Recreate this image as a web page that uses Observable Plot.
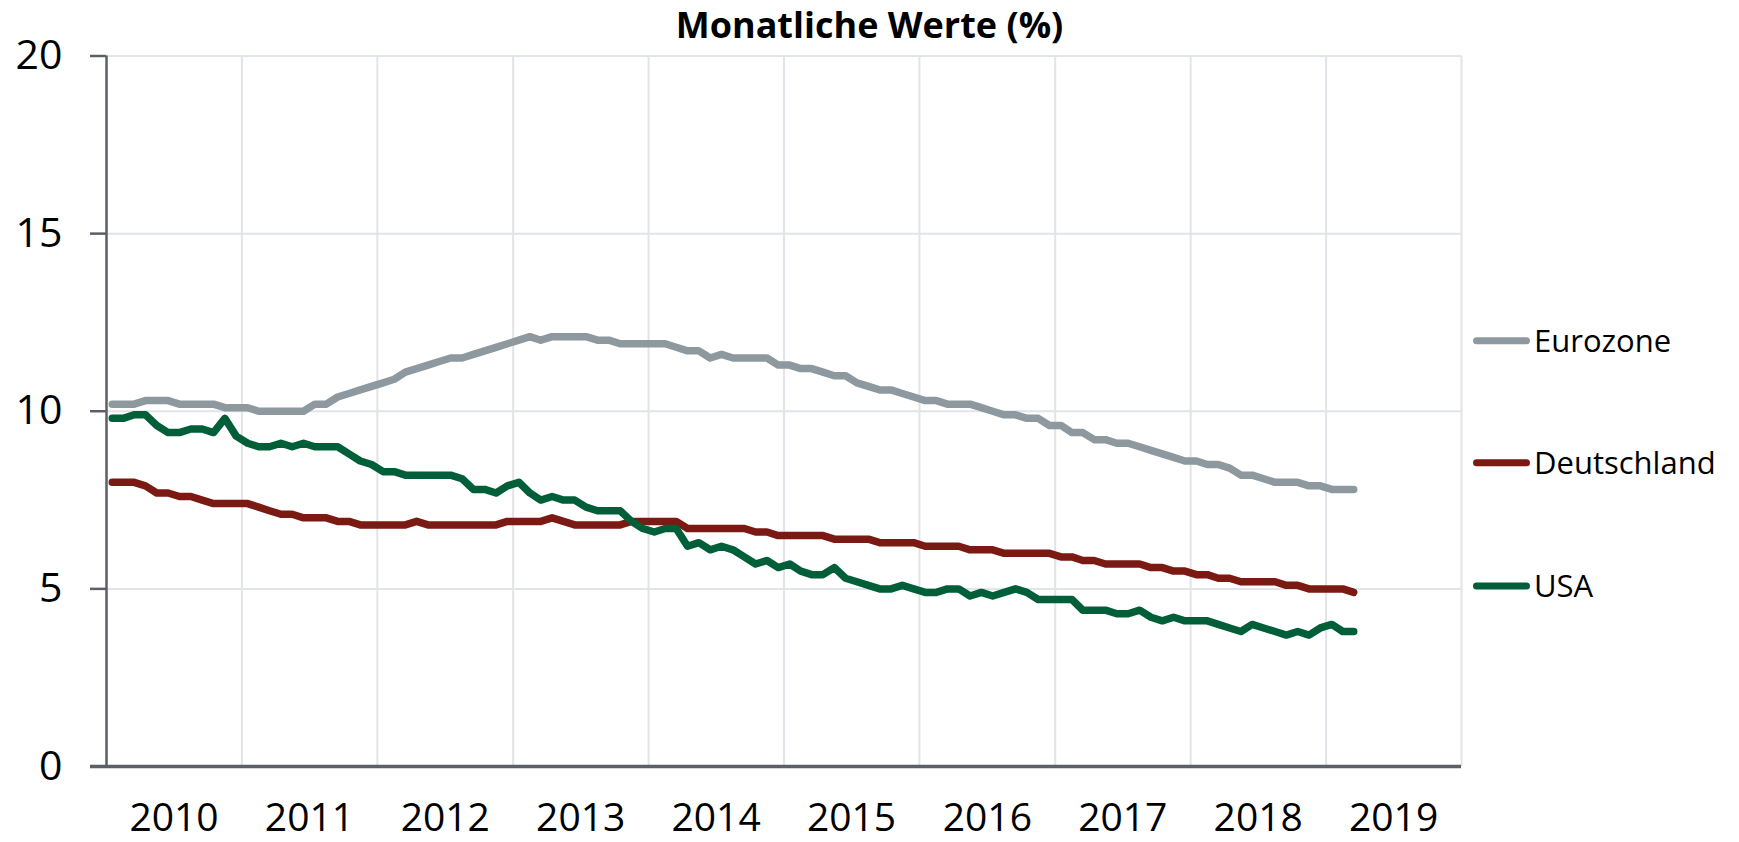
<!DOCTYPE html>
<html>
<head>
<meta charset="utf-8">
<script src="https://cdn.jsdelivr.net/npm/d3@7"></script>
<script src="https://cdn.jsdelivr.net/npm/@observablehq/plot@0.6"></script>
<style>
  html, body { margin: 0; padding: 0; background: #fff; }
  #wrap { position: relative; width: 1739px; height: 842px; overflow: hidden; font-family: "Open Sans", sans-serif; }
  #title { position: absolute; top: 5px; left: 0; width: 1739px; text-align: center; font: 700 36px/40px "Open Sans", sans-serif; color: #000; }
  #chart { position: absolute; top: 0; left: 0; }
</style>
</head>
<body>
<div id="wrap">
  <div id="chart"></div>
  <div id="title">Monatliche Werte (%)</div>
</div>
<script>
// ---- Data: monthly values, Jan 2010 – Mar 2019 ----
const startYear = 2010;
const startMonth = 0; // January
const years = ["2010","2011","2012","2013","2014","2015","2016","2017","2018","2019"];
const yTicks = [0, 5, 10, 15, 20];
const seriesNames = ["Eurozone", "Deutschland", "USA"];

const eurozone = [
  10.2,10.2,10.2,10.3,10.3,10.3,10.2,10.2,10.2,10.2,10.1,10.1,
  10.1,10.0,10.0,10.0,10.0,10.0,10.2,10.2,10.4,10.5,10.6,10.7,
  10.8,10.9,11.1,11.2,11.3,11.4,11.5,11.5,11.6,11.7,11.8,11.9,
  12.0,12.1,12.0,12.1,12.1,12.1,12.1,12.0,12.0,11.9,11.9,11.9,
  11.9,11.9,11.8,11.7,11.7,11.5,11.6,11.5,11.5,11.5,11.5,11.3,
  11.3,11.2,11.2,11.1,11.0,11.0,10.8,10.7,10.6,10.6,10.5,10.4,
  10.3,10.3,10.2,10.2,10.2,10.1,10.0,9.9,9.9,9.8,9.8,9.6,
  9.6,9.4,9.4,9.2,9.2,9.1,9.1,9.0,8.9,8.8,8.7,8.6,
  8.6,8.5,8.5,8.4,8.2,8.2,8.1,8.0,8.0,8.0,7.9,7.9,
  7.8,7.8,7.8
];
const deutschland = [
  8.0,8.0,8.0,7.9,7.7,7.7,7.6,7.6,7.5,7.4,7.4,7.4,
  7.4,7.3,7.2,7.1,7.1,7.0,7.0,7.0,6.9,6.9,6.8,6.8,
  6.8,6.8,6.8,6.9,6.8,6.8,6.8,6.8,6.8,6.8,6.8,6.9,
  6.9,6.9,6.9,7.0,6.9,6.8,6.8,6.8,6.8,6.8,6.9,6.9,
  6.9,6.9,6.9,6.7,6.7,6.7,6.7,6.7,6.7,6.6,6.6,6.5,
  6.5,6.5,6.5,6.5,6.4,6.4,6.4,6.4,6.3,6.3,6.3,6.3,
  6.2,6.2,6.2,6.2,6.1,6.1,6.1,6.0,6.0,6.0,6.0,6.0,
  5.9,5.9,5.8,5.8,5.7,5.7,5.7,5.7,5.6,5.6,5.5,5.5,
  5.4,5.4,5.3,5.3,5.2,5.2,5.2,5.2,5.1,5.1,5.0,5.0,
  5.0,5.0,4.9
];
const usa = [
  9.8,9.8,9.9,9.9,9.6,9.4,9.4,9.5,9.5,9.4,9.8,9.3,
  9.1,9.0,9.0,9.1,9.0,9.1,9.0,9.0,9.0,8.8,8.6,8.5,
  8.3,8.3,8.2,8.2,8.2,8.2,8.2,8.1,7.8,7.8,7.7,7.9,
  8.0,7.7,7.5,7.6,7.5,7.5,7.3,7.2,7.2,7.2,6.9,6.7,
  6.6,6.7,6.7,6.2,6.3,6.1,6.2,6.1,5.9,5.7,5.8,5.6,
  5.7,5.5,5.4,5.4,5.6,5.3,5.2,5.1,5.0,5.0,5.1,5.0,
  4.9,4.9,5.0,5.0,4.8,4.9,4.8,4.9,5.0,4.9,4.7,4.7,
  4.7,4.7,4.4,4.4,4.4,4.3,4.3,4.4,4.2,4.1,4.2,4.1,
  4.1,4.1,4.0,3.9,3.8,4.0,3.9,3.8,3.7,3.8,3.7,3.9,
  4.0,3.8,3.8
];
const colors = ["#8e989f", "#7b1913", "#005e38"];

// ---- Build table ----
function monthMid(i) {
  const a = new Date(Date.UTC(startYear, startMonth + i, 1));
  const b = new Date(Date.UTC(startYear, startMonth + i + 1, 1));
  return new Date((+a + +b) / 2);
}
const seriesValues = [eurozone, deutschland, usa];
const rows = [];
seriesValues.forEach((vals, s) => vals.forEach((v, i) => rows.push({series: seriesNames[s], date: monthMid(i), value: v})));

const yearStarts = years.map(y => new Date(Date.UTC(+y, 0, 1)));
const yearEnd = new Date(Date.UTC(+years[years.length - 1] + 1, 0, 1));
const yearMids = years.map(y => new Date(Date.UTC(+y, 6, 2)));
const gridYears = yearStarts.slice(1).concat([yearEnd]);

const axisColor = "#5b6068";
const gridColor = "#e1e4e8";

const plot = Plot.plot({
  width: 1739,
  height: 842,
  marginLeft: 106,
  marginRight: 278,
  marginTop: 55.5,
  marginBottom: 76,
  style: { fontFamily: "Open Sans, sans-serif", background: "#fff", color: "#000" },
  x: { type: "utc", domain: [yearStarts[0], yearEnd] },
  y: { domain: [0, 20] },
  marks: [
    Plot.gridY(yTicks.filter(d => d > 0), { stroke: gridColor, strokeOpacity: 1, strokeWidth: 2 }),
    Plot.gridX(gridYears, { stroke: gridColor, strokeOpacity: 1, strokeWidth: 2 }),
    Plot.ruleX([yearStarts[0]], { y1: 0, y2: 20, stroke: axisColor, strokeWidth: 2.5 }),
    Plot.axisY(yTicks, { tickSize: 16, tickPadding: 28, stroke: axisColor, strokeWidth: 2.5, fill: "#000", fontSize: 41, label: null }),
    Plot.axisX(yearMids, { tickSize: 0, tickPadding: 37, tickFormat: d => d3.utcFormat("%Y")(d), fill: "#000", fontSize: 39, label: null }),
    ...seriesNames.map((name, s) => Plot.line(rows.filter(r => r.series === name), {
      x: "date", y: "value", stroke: colors[s], strokeWidth: 7.5,
      strokeLinejoin: "round", strokeLinecap: "round"
    })),
    Plot.ruleY([0], { stroke: axisColor, strokeWidth: 3.5, insetLeft: -16 })
  ]
});
document.getElementById("chart").appendChild(plot);

// ---- Legend (right side) ----
const svg = d3.select(plot);
const legendY = [340.7, 462.7, 586];
const lg = svg.append("g")
  .attr("font-family", "Open Sans, sans-serif")
  .attr("font-size", 31)
  .attr("text-anchor", "start");
seriesNames.forEach((name, s) => {
  lg.append("line")
    .attr("x1", 1476.5).attr("x2", 1526.5)
    .attr("y1", legendY[s]).attr("y2", legendY[s])
    .attr("stroke", colors[s]).attr("stroke-width", 7).attr("stroke-linecap", "round");
  lg.append("text")
    .attr("x", 1534).attr("y", legendY[s]).attr("dy", "0.35em")
    .attr("fill", "#000").text(name);
});
</script>
</body>
</html>
